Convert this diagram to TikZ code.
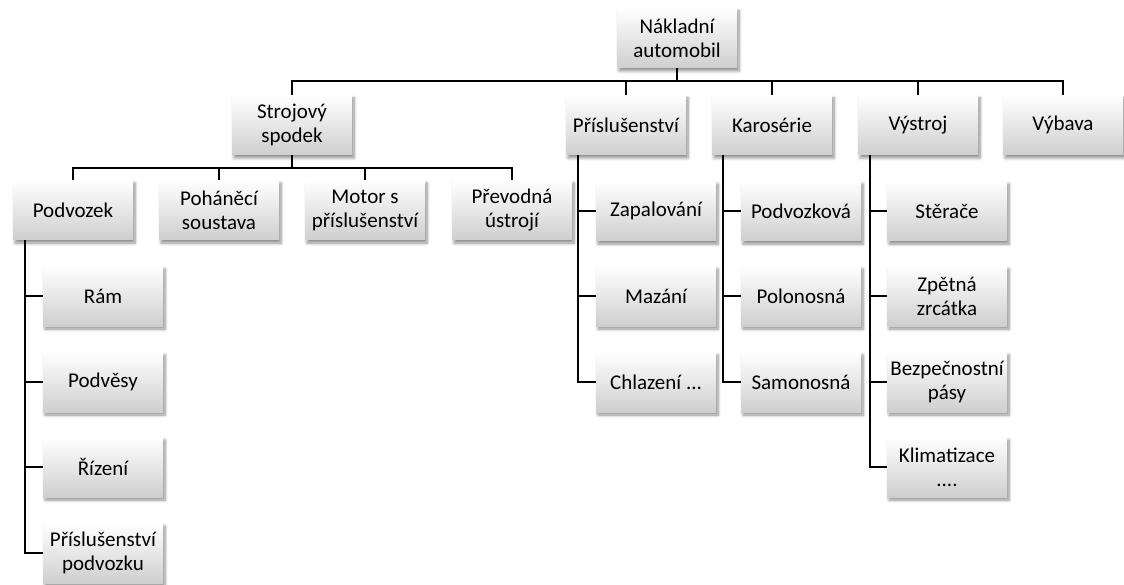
\documentclass[tikz,border=0pt]{standalone}
\usepackage{fontspec}
\setmainfont{Carlito}
\usetikzlibrary{shadows.blur}
\begin{document}
\begin{tikzpicture}[x=1pt,y=-1pt,
  box/.style={minimum width=120pt,minimum height=60pt,inner sep=2pt,align=center,
    top color=white,bottom color=gray!38,
    blur shadow={shadow xshift=2pt,shadow yshift=-3pt,shadow blur radius=3pt,shadow blur steps=6,shadow opacity=45},
    font=\fontsize{21}{24}\selectfont},
  conn/.style={line width=2pt,black}]
\useasboundingbox (0,0) rectangle (1124,585);
% nodes
\node[box] (root) at (677,38) {Nákladní\\automobil};
\node[box] (sp) at (292,125) {Strojový\\spodek};
\node[box] (pr) at (626,125) {Příslušenství};
\node[box] (ka) at (772,125) {Karosérie};
\node[box] (vs) at (918,125) {Výstroj};
\node[box] (vy) at (1063,125) {Výbava};
\node[box] (pv) at (73,210) {Podvozek};
\node[box] (ps) at (219,210) {Poháněcí\\soustava};
\node[box] (mo) at (365,210) {Motor s\\příslušenství};
\node[box] (pu) at (512,210) {Převodná\\ústrojí};
\node[box] (pv1) at (103,296) {Rám};
\node[box] (pv2) at (103,382) {Podvěsy};
\node[box] (pv3) at (103,467) {Řízení};
\node[box] (pv4) at (103,553) {Příslušenství\\podvozku};
\node[box] (pr1) at (656,211) {Zapalování};
\node[box] (pr2) at (656,296) {Mazání};
\node[box] (pr3) at (656,382) {Chlazení ...};
\node[box] (ka1) at (801,211) {Podvozková};
\node[box] (ka2) at (801,296) {Polonosná};
\node[box] (ka3) at (801,382) {Samonosná};
\node[box] (vs1) at (947,211) {Stěrače};
\node[box] (vs2) at (947,296) {Zpětná\\zrcátka};
\node[box] (vs3) at (947,382) {Bezpečnostní\\pásy};
\node[box] (vs4) at (947,467) {Klimatizace\\....};
% connectors
\coordinate (b1) at (0,81);
\coordinate (b2) at (0,168);
\draw[conn] (root.south) -- (root.south |- b1);
\draw[conn] (sp.north) -- (sp.north |- b1) -- (vy.north |- b1) -- (vy.north);
\foreach \n in {pr,ka,vs} \draw[conn] (\n.north) -- (\n.north |- b1);
\draw[conn] (sp.south) -- (sp.south |- b2);
\draw[conn] (pv.north) -- (pv.north |- b2) -- (pu.north |- b2) -- (pu.north);
\foreach \n in {ps,mo} \draw[conn] (\n.north) -- (\n.north |- b2);
% vertical lists
\draw[conn] ([xshift=12pt]pv.south west) coordinate (tpv) |- (pv4.west);
\foreach \n in {pv1,pv2,pv3} \draw[conn] (\n.west) -- (\n.west -| tpv);
\draw[conn] ([xshift=12pt]pr.south west) coordinate (tpr) |- (pr3.west);
\foreach \n in {pr1,pr2} \draw[conn] (\n.west) -- (\n.west -| tpr);
\draw[conn] ([xshift=11pt]ka.south west) coordinate (tka) |- (ka3.west);
\foreach \n in {ka1,ka2} \draw[conn] (\n.west) -- (\n.west -| tka);
\draw[conn] ([xshift=12pt]vs.south west) coordinate (tvs) |- (vs4.west);
\foreach \n in {vs1,vs2,vs3} \draw[conn] (\n.west) -- (\n.west -| tvs);
\end{tikzpicture}
\end{document}
